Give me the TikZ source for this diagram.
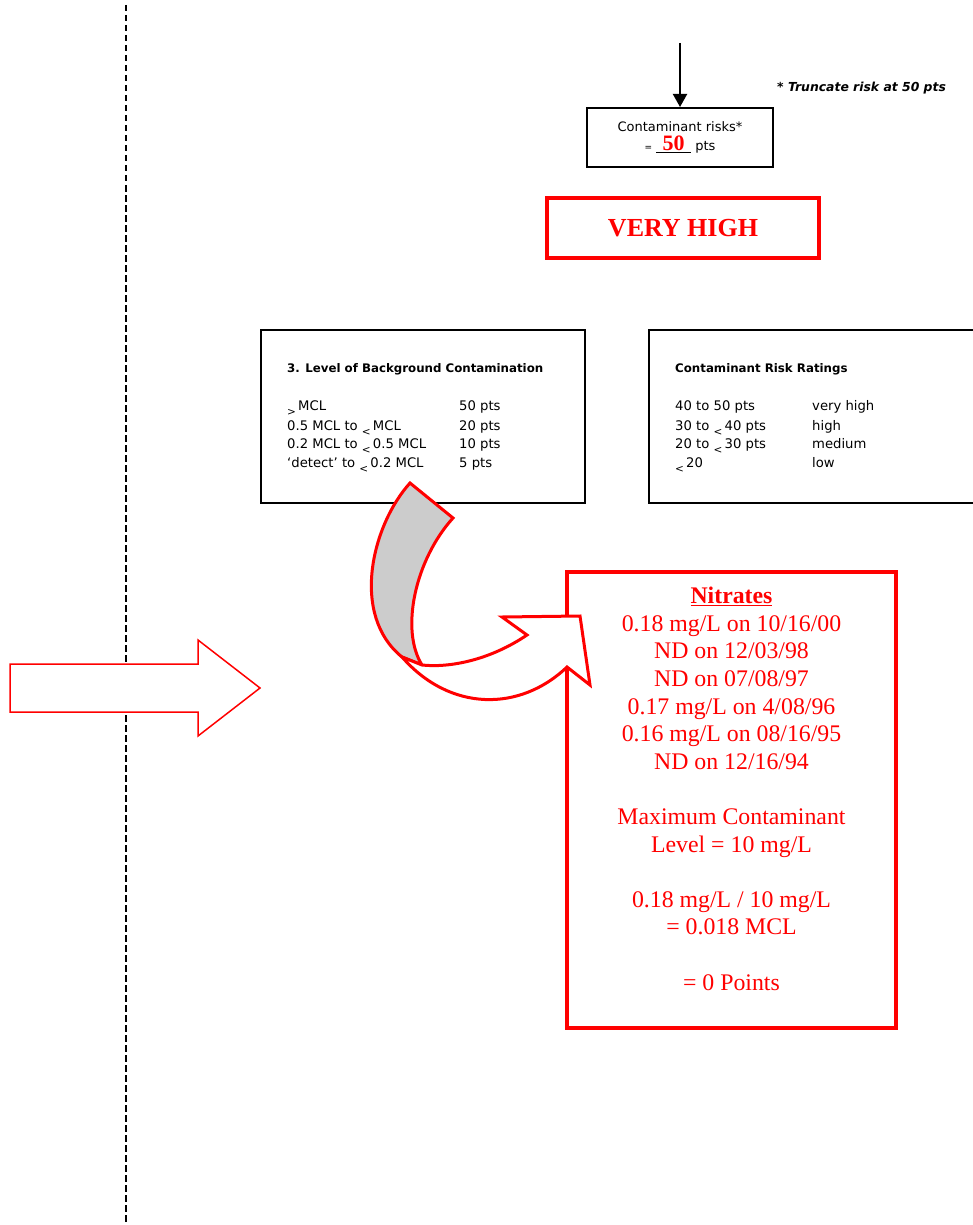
\documentclass[tikz,border=0pt]{standalone}
\usepackage{fontspec}
\setmainfont{Liberation Serif}
\setsansfont{DejaVu Sans}
\usetikzlibrary{positioning,arrows.meta}
\newcommand\lowlt[1]{\raisebox{-5pt}{\fontsize{10.5}{10.5}\selectfont#1}\,}
\tikzset{every node/.style={inner sep=0pt},every path/.style={line join=miter},
  tablebox/.style={draw,line width=1.5pt,minimum height=173pt},
  redbox/.style={draw=red,line width=4pt},
  headtext/.style={anchor=base west,font=\sffamily\bfseries\fontsize{11.8}{12}\selectfont},
  rowtext/.style={anchor=base west,font=\sffamily\fontsize{13.2}{13}\selectfont}}

\begin{document}
\begin{tikzpicture}[x=1pt,y=-1pt]
  \fill[white] (0,0) rectangle (972,1225);
  \useasboundingbox (0,0) rectangle (972,1225);
  \draw[line width=2pt,dash pattern=on 6.5pt off 3.5pt] (126,5) -- (126,1222);
  % risk total
  \coordinate (feed) at (680,43);
  \node[draw,line width=2pt,minimum width=186pt,minimum height=59pt,align=center,font=\sffamily\fontsize{13}{19}\selectfont] (risks) at (680,137.5)
    {Contaminant risks*\\{\fontsize{9}{9}\selectfont=} \underline{\makebox[35pt]{\rmfamily\bfseries\fontsize{22}{22}\selectfont\color{red}50}} pts};
  \draw[line width=2pt,-{Triangle[width=14pt,length=13pt]}] (feed) -- (risks.north);
  \node[anchor=base west,font=\sffamily\bfseries\itshape\fontsize{12.4}{12}\selectfont] (note) at (777,92) {* Truncate risk at 50 pts};
  \node[redbox,minimum width=272pt,minimum height=60pt,font=\bfseries\fontsize{26}{26}\selectfont,text=red] (rating) at (683,228) {VERY HIGH};
  % tables
  \node[tablebox,minimum width=324pt] (level) at (423,416.5) {};
  \node[headtext] (levelhead) at (287,372) {3. Level of Background Contamination};
  \foreach \yy/\lft/\rgt in {410/{\lowlt{>}MCL}/50 pts,430/{0.5 MCL to \lowlt{<}MCL}/20 pts,448/{0.2 MCL to \lowlt{<}0.5 MCL}/10 pts,467/{‘detect’ to \lowlt{<}0.2 MCL}/5 pts}
    {\node[rowtext] (lvl-\yy) at (287,\yy) {\lft};
     \node[rowtext] (pts-\yy) at (459,\yy) {\rgt};}
  \node[tablebox,minimum width=340pt] (ratings) at (819,416.5) {};
  \node[headtext] (ratehead) at (675,372) {Contaminant Risk Ratings};
  \foreach \yy/\lft/\rgt in {410/40 to 50 pts/very high,430/{30 to \lowlt{<}40 pts}/high,448/{20 to \lowlt{<}30 pts}/medium,467/{\lowlt{<}20}/low}
    {\node[rowtext] (rng-\yy) at (675,\yy) {\lft};
     \node[rowtext] (lab-\yy) at (812,\yy) {\rgt};}
  % nitrate data
  \node[redbox,minimum width=329pt,minimum height=456pt] (nitrates) at (731.5,800) {};
  \node[anchor=north,align=center,text=red,font=\fontsize{23.8}{27.6}\selectfont] (nitratetext) at (731.5,587)
    {\underline{\textbf{Nitrates}}\\0.18 mg/L on 10/16/00\\ND on 12/03/98\\ND on 07/08/97\\0.17 mg/L on 4/08/96\\0.16 mg/L on 08/16/95\\ND on 12/16/94\\[27.6pt]
     Maximum Contaminant\\Level = 10 mg/L\\[27.6pt]0.18 mg/L / 10 mg/L\\= 0.018 MCL\\[27.6pt]= 0 Points};
  % curved arrow
  \filldraw[draw=red,fill=black!20,line width=3pt] (410,483) -- (453,518) .. controls (415,560) and (400,630) .. (422,665) -- (402,657) .. controls (350,615) and (372,525) .. cycle;
  \filldraw[draw=red,fill=white,line width=3pt] (402,657) .. controls (450,712) and (520,712) .. (567,667) -- (590,685) -- (580,616) -- (502,617) -- (527,635) .. controls (490,660) and (450,668) .. (422,665) -- cycle;
  \filldraw[draw=red,fill=white,line width=1.5pt] (10,664) -- (198,664) -- (198,640) -- (260,688) -- (198,736) -- (198,712) -- (10,712) -- cycle;
\end{tikzpicture}
\end{document}
